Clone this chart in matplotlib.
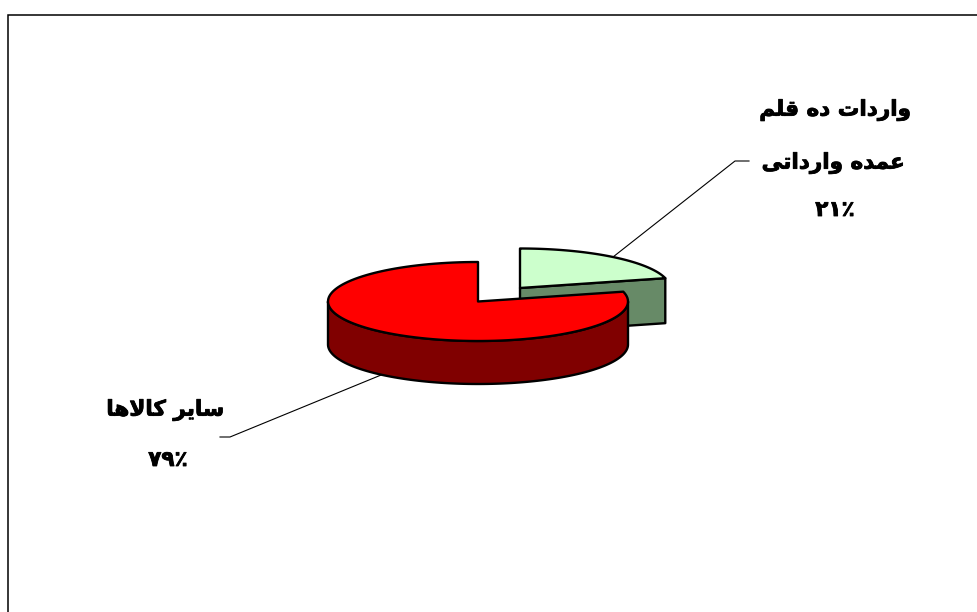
import numpy as np
import matplotlib
matplotlib.use("Agg")
import matplotlib.pyplot as plt
import matplotlib.patheffects as pe
from matplotlib.patches import Polygon

# ---- data ----
categories = ["واردات ده قلم عمده وارداتی", "سایر کالاها"]
shares = [21, 79]
label_lines = [["واردات ده قلم", "عمده وارداتی", "۲۱٪"], ["سایر کالاها", "۷۹٪"]]

# ---- minimal Persian shaping (matplotlib has no bidi / joining support) ----
FORMS = {  # isolated, final, initial, medial
    "ا": ("\uFE8D", "\uFE8E", None, None), "د": ("\uFEA9", "\uFEAA", None, None),
    "ر": ("\uFEAD", "\uFEAE", None, None), "و": ("\uFEED", "\uFEEE", None, None),
    "ت": ("\uFE95", "\uFE96", "\uFE97", "\uFE98"), "ه": ("\uFEE9", "\uFEEA", "\uFEEB", "\uFEEC"),
    "ق": ("\uFED5", "\uFED6", "\uFED7", "\uFED8"), "ل": ("\uFEDD", "\uFEDE", "\uFEDF", "\uFEE0"),
    "م": ("\uFEE1", "\uFEE2", "\uFEE3", "\uFEE4"), "ع": ("\uFEC9", "\uFECA", "\uFECB", "\uFECC"),
    "ی": ("\uFBFC", "\uFBFD", "\uFBFE", "\uFBFF"), "س": ("\uFEB1", "\uFEB2", "\uFEB3", "\uFEB4"),
    "ک": ("\uFB8E", "\uFB8F", "\uFB90", "\uFB91"),
}


def shape(text):
    out = []
    i = 0
    n = len(text)
    prev_joins = False
    while i < n:
        c = text[i]
        if c not in FORMS:
            out.append(c)
            prev_joins = False
            i += 1
            continue
        if c == "ل" and i + 1 < n and text[i + 1] == "ا":
            out.append("\uFEFC" if prev_joins else "\uFEFB")
            prev_joins = False
            i += 2
            continue
        iso, fin, ini, med = FORMS[c]
        next_ok = i + 1 < n and text[i + 1] in FORMS and ini is not None
        if prev_joins and next_ok:
            out.append(med)
        elif prev_joins:
            out.append(fin)
        elif next_ok:
            out.append(ini)
        else:
            out.append(iso)
        prev_joins = next_ok
        i += 1
    return "".join(out)


def visual(text):
    s = shape(text)
    return s if s[0] in "۰۱۲۳۴۵۶۷۸۹" else s[::-1]


# ---- figure in pixel coordinates ----
W, H = 978, 612
fig = plt.figure(figsize=(W / 100, H / 100), dpi=100, facecolor="white")
ax = fig.add_axes([0, 0, 1, 1])
ax.set_xlim(0, W)
ax.set_ylim(H, 0)
ax.axis("off")

ax.plot([8, 8, W], [H, 14.5, 14.5], color="black", lw=1.1, solid_joinstyle="miter")

RX, RY, DEPTH = 150, 39.5, 43
green_cx, green_cy = 520, 288
red_cx, red_cy = 478, 301.5
split = 2 * np.pi * shares[0] / sum(shares)  # clockwise from 12 o'clock


def rim(cx, cy, t0, t1, n=120):
    t = np.linspace(t0, t1, n)
    return np.column_stack([cx + RX * np.sin(t), cy - RY * np.cos(t)])


edge = dict(edgecolor="black", lw=1.7, joinstyle="round")

# leader lines
ax.plot([613, 735, 749], [257, 161, 161], color="black", lw=0.8, zorder=1)
ax.plot([386, 230, 220], [373, 437, 437], color="black", lw=0.8, zorder=1)

# small slice: cut wall then top
g_rim = rim(green_cx, green_cy, 0, split)
g_end = g_rim[-1]
ax.add_patch(Polygon([(green_cx, green_cy), g_end, g_end + (0, DEPTH + 2),
                      (green_cx, green_cy + DEPTH + 2)],
                     facecolor="#678A67", zorder=2, **edge))
ax.add_patch(Polygon(np.vstack([[(green_cx, green_cy)], g_rim]),
                     facecolor="#CCFFCC", zorder=3, **edge))

# large slice: outer wall (the part of the rim facing the viewer) then top
front = rim(red_cx, red_cy, np.pi / 2, 3 * np.pi / 2)
wall = np.vstack([front, front[::-1] + (0, DEPTH)])
ax.add_patch(Polygon(wall, facecolor="#800000", zorder=4, **edge))
r_rim = rim(red_cx, red_cy, split, 2 * np.pi)
ax.add_patch(Polygon(np.vstack([[(red_cx, red_cy)], r_rim]),
                     facecolor="#FF0000", zorder=5, **edge))

# labels
font = dict(family="DejaVu Sans", fontweight="bold", color="black",
            ha="center", va="center", zorder=6,
            path_effects=[pe.withStroke(linewidth=0.6, foreground="black")])
for line, x, y in zip(label_lines[0], [835, 833, 835], [110, 163, 210]):
    ax.text(x, y, visual(line), fontsize=15.5, **font)
for line, x, y in zip(label_lines[1], [165, 168], [410, 460]):
    ax.text(x, y, visual(line), fontsize=15.5, **font)

fig.savefig("out.png", dpi=100, facecolor="white")
